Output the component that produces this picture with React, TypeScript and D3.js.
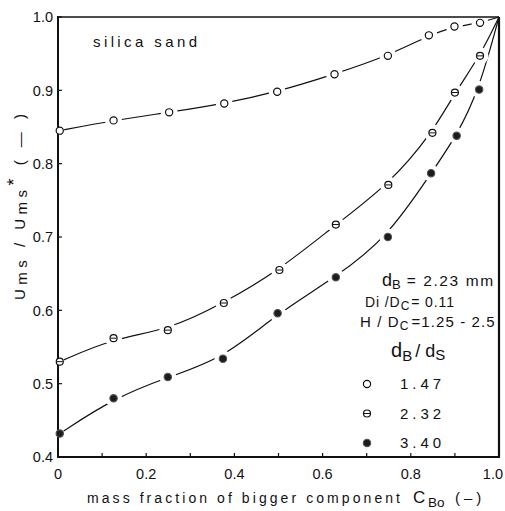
import React from 'react';
import * as d3 from 'd3';

const W = 505;
const H = 511;
const plot = { left: 58, right: 499, top: 17, bottom: 457 };

// axis ticks
const xTicks = [0, 0.2, 0.4, 0.6, 0.8, 1.0];
const xTickLabels = ['0', '0.2', '0.4', '0.6', '0.8', '1.0'];
const yTicks = [0.4, 0.5, 0.6, 0.7, 0.8, 0.9, 1.0];
const yTickLabels = ['0.4', '0.5', '0.6', '0.7', '0.8', '0.9', '1.0'];

// d_B / d_S = 1.47
const cBo147 = [0.004, 0.126, 0.252, 0.377, 0.497, 0.627, 0.748, 0.841, 0.899, 0.957];
const ums147 = [0.845, 0.859, 0.870, 0.882, 0.898, 0.922, 0.947, 0.975, 0.987, 0.992];
// d_B / d_S = 2.32
const cBo232 = [0.004, 0.126, 0.249, 0.376, 0.502, 0.630, 0.749, 0.849, 0.900, 0.957];
const ums232 = [0.530, 0.562, 0.573, 0.610, 0.655, 0.717, 0.771, 0.842, 0.897, 0.947];
// d_B / d_S = 3.40
const cBo340 = [0.004, 0.126, 0.249, 0.374, 0.498, 0.630, 0.748, 0.846, 0.904, 0.955];
const ums340 = [0.432, 0.480, 0.509, 0.534, 0.596, 0.645, 0.700, 0.787, 0.838, 0.901];

// all curves converge on the pure bigger component
const convergePoint: [number, number] = [1.0, 1.0];

const ratioLabels = ['1.47', '2.32', '3.40'];
const markerKinds = ['open', 'theta', 'filled'] as const;

const FONT = "'Liberation Sans', Arial, sans-serif";

type Kind = typeof markerKinds[number];

function Marker({ cx, cy, kind }: { cx: number; cy: number; kind: Kind }) {
  if (kind === 'open') {
    return <circle cx={cx} cy={cy} r={3.6} fill="#fff" stroke="#111" strokeWidth={1.2} />;
  }
  if (kind === 'theta') {
    return (
      <g>
        <circle cx={cx} cy={cy} r={3.5} fill="#fff" stroke="#111" strokeWidth={1.2} />
        <line x1={cx - 3} x2={cx + 3} y1={cy} y2={cy} stroke="#111" strokeWidth={1} />
      </g>
    );
  }
  return <circle cx={cx} cy={cy} r={3.7} fill="#1c1c1c" stroke="#555" strokeWidth={1.1} />;
}

export default function App() {
  const x = d3.scaleLinear().domain([0, 1]).range([plot.left, plot.right]);
  const y = d3.scaleLinear().domain([0.4, 1]).range([plot.bottom, plot.top]);

  const series = [
    { cBo: cBo147, ums: ums147 },
    { cBo: cBo232, ums: ums232 },
    { cBo: cBo340, ums: ums340 },
  ].map((s, i) => ({
    points: s.cBo.map((c, j) => [c, s.ums[j]] as [number, number]),
    kind: markerKinds[i],
    label: ratioLabels[i],
  }));

  const line = d3
    .line<[number, number]>()
    .x((d) => x(d[0]))
    .y((d) => y(d[1]))
    .curve(d3.curveBasis);

  const minorX = x.ticks(10);

  return (
    <svg
      width={W}
      height={H}
      viewBox={`0 0 ${W} ${H}`}
      style={{ position: 'absolute', left: 0, top: 0, background: '#fff' }}
      fontFamily={FONT}
    >
      <rect x={0} y={0} width={W} height={H} fill="#fff" />

      {/* fitted curves */}
      {series.map((s, i) => (
        <path
          key={`c${i}`}
          d={line([...s.points, convergePoint]) || ''}
          fill="none"
          stroke="#111"
          strokeWidth={1.2}
        />
      ))}

      {/* breaks in the curves around each measurement */}
      {series.map((s, i) =>
        s.points.map((p, j) => (
          <circle key={`h${i}-${j}`} cx={x(p[0])} cy={y(p[1])} r={j === 0 ? 4.6 : 8.5} fill="#fff" />
        ))
      )}

      {/* frame */}
      <line x1={plot.left} x2={plot.right} y1={plot.top} y2={plot.top} stroke="#111" strokeWidth={1.5} />
      <line x1={plot.right} x2={plot.right} y1={plot.top} y2={plot.bottom} stroke="#111" strokeWidth={2.2} />
      <line x1={plot.left} x2={plot.left} y1={plot.top - 1} y2={plot.bottom + 1} stroke="#111" strokeWidth={2} />
      <line x1={plot.left - 1} x2={plot.right + 1} y1={plot.bottom} y2={plot.bottom} stroke="#111" strokeWidth={2} />

      {/* ticks */}
      {yTicks.map((t) => (
        <line key={`yt${t}`} x1={plot.left} x2={plot.left + 4} y1={y(t)} y2={y(t)} stroke="#111" strokeWidth={1.2} />
      ))}
      {minorX.map((t) => (
        <line key={`xt${t}`} x1={x(t)} x2={x(t)} y1={plot.bottom} y2={plot.bottom - 4} stroke="#111" strokeWidth={1.2} />
      ))}

      {/* tick labels */}
      {yTicks.map((t, i) => (
        <text key={`yl${t}`} x={plot.left - 5} y={y(t)} dy="0.36em" textAnchor="end" fontSize={14.5} fill="#111">
          {yTickLabels[i]}
        </text>
      ))}
      {xTicks.map((t, i) => (
        <text
          key={`xl${t}`}
          x={i === xTicks.length - 1 ? x(t) + 4 : x(t)}
          y={479}
          textAnchor={i === xTicks.length - 1 ? 'end' : 'middle'}
          fontSize={14.5}
          fill="#111"
        >
          {xTickLabels[i]}
        </text>
      ))}

      {/* markers */}
      {series.map((s, i) =>
        s.points.map((p, j) => <Marker key={`m${i}-${j}`} cx={x(p[0])} cy={y(p[1])} kind={s.kind} />)
      )}

      {/* axis titles */}
      <text x={87} y={503} fontSize={14} fill="#111" textLength={313} lengthAdjust="spacing">
        mass fraction  of bigger component
      </text>
      <text y={503} fontSize={17} fill="#111">
        <tspan x={413}>C</tspan>
        <tspan x={428} dy={4} fontSize={13.5}>Bo</tspan>
        <tspan x={455} dy={-4} fontSize={15} letterSpacing={4}>(–)</tspan>
      </text>

      <text
        transform="translate(25,207) rotate(-90)"
        textAnchor="middle"
        fontSize={15}
        fill="#111"
        textLength={186}
        lengthAdjust="spacing"
      >
        <tspan>U</tspan>
        <tspan dy={1.5}>ms</tspan>
        <tspan dy={-1.5}> / U</tspan>
        <tspan dy={1.5}>ms</tspan>
        <tspan dy={-7} fontSize={18}>*</tspan>
        <tspan dy={5.5}> ( — )</tspan>
      </text>

      {/* annotations */}
      <text x={93} y={47} fontSize={15} fill="#111" textLength={104} lengthAdjust="spacing">
        silica  sand
      </text>

      <text x={382} y={286} fill="#111" fontSize={18}>
        <tspan>d</tspan>
        <tspan dy={3} fontSize={13}>B</tspan>
        <tspan dy={-3} dx={6} fontSize={15.5} letterSpacing={1.6}>= 2.23 mm</tspan>
      </text>
      <text x={365} y={307} fill="#111" fontSize={14} letterSpacing={0.9}>
        <tspan>Di /D</tspan>
        <tspan dy={3} fontSize={12}>C</tspan>
        <tspan dy={-3} dx={1}>= 0.11</tspan>
      </text>
      <text x={360} y={327} fill="#111" fontSize={15} letterSpacing={1.1}>
        <tspan>H / D</tspan>
        <tspan dy={3} fontSize={12}>C</tspan>
        <tspan dy={-3} dx={2}>=1.25 - 2.5</tspan>
      </text>

      <text x={391} y={357} fill="#111" fontSize={20}>
        <tspan>d</tspan>
        <tspan dy={4} fontSize={15}>B</tspan>
        <tspan dy={-4} dx={3} fontSize={18}>/ d</tspan>
        <tspan dy={3} fontSize={15}>S</tspan>
      </text>

      {/* legend */}
      {series.map((s, i) => {
        const ly = 384 + i * 29.5;
        return (
          <g key={`lg${i}`}>
            <Marker cx={367} cy={ly} kind={s.kind} />
            <text x={400} y={ly + 5} fontSize={15} fill="#111" letterSpacing={4}>
              {s.label}
            </text>
          </g>
        );
      })}
    </svg>
  );
}
